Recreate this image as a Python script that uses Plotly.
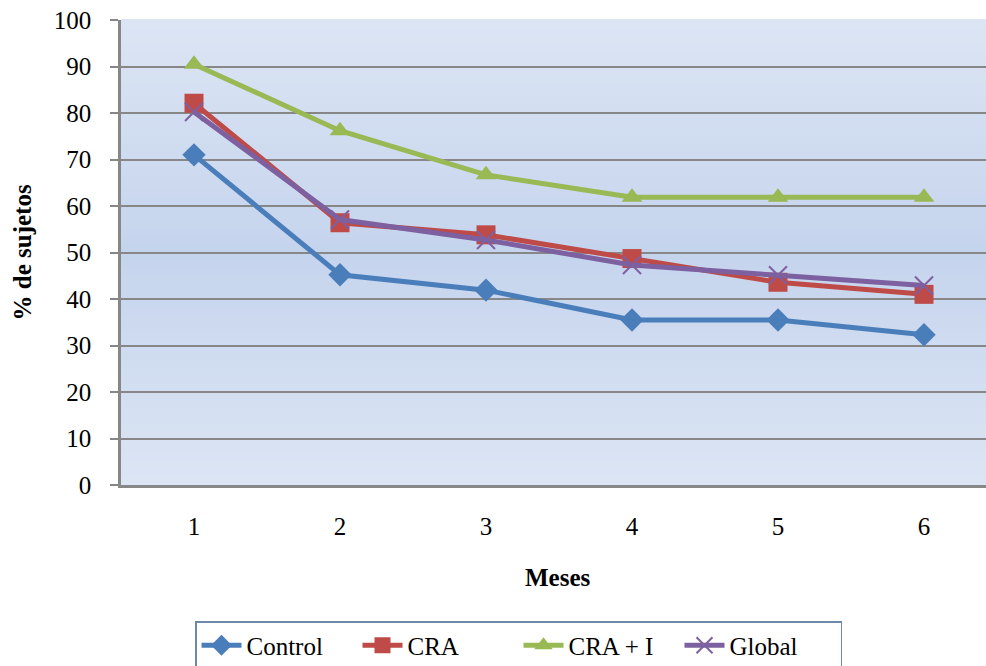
import plotly.graph_objects as go

# Data: percentage of subjects per month and group
meses = [1, 2, 3, 4, 5, 6]
control = [71.0, 45.2, 41.9, 35.5, 35.5, 32.3]
cra = [82.1, 56.4, 53.8, 48.7, 43.6, 41.0]
cra_i = [90.5, 76.2, 66.7, 61.9, 61.9, 61.9]
global_ = [80.2, 57.1, 52.7, 47.3, 45.1, 42.9]
y_ticks = [0, 10, 20, 30, 40, 50, 60, 70, 80, 90, 100]

series = [
    ("Control", control, "#4A7EBB", "diamond", 18, 0),
    ("CRA", cra, "#BE4B48", "square", 19, 0),
    ("CRA + I", cra_i, "#98B954", "triangle-up", 18, 0),
    ("Global", global_, "#7D60A0", "x-thin-open", 18, 2),
]

FONT = "Liberation Serif"

fig = go.Figure()
for name, vals, color, symbol, size, mlw in series:
    fig.add_trace(go.Scatter(
        x=meses, y=vals, name=name, mode="lines+markers",
        line=dict(color=color, width=5),
        marker=dict(symbol=symbol, size=size, color=color,
                    line=dict(color=color, width=mlw)),
    ))

# Vertical gradient for the plotting area (light at edges, deeper in the middle)
top = (220, 229, 244)
mid = (197, 212, 237)
n_bands = 60
for i in range(n_bands):
    t = (i + 0.5) / n_bands
    w = 1 - abs(t - 0.5) * 2
    c = tuple(int(round(top[k] + (mid[k] - top[k]) * w)) for k in range(3))
    fig.add_shape(type="rect", xref="paper", yref="paper",
                  x0=0, x1=1, y0=i / n_bands, y1=(i + 1) / n_bands + 0.002,
                  fillcolor="rgb(%d,%d,%d)" % c, line=dict(width=0), layer="below")

fig.update_layout(
    width=986, height=666,
    margin=dict(l=121, r=0, t=20, b=181),
    paper_bgcolor="white",
    plot_bgcolor="rgba(0,0,0,0)",
    font=dict(family=FONT, size=25, color="black"),
    showlegend=True,
    legend=dict(
        orientation="h", xref="container", yref="container",
        x=195 / 986, y=1 - 621 / 666, xanchor="left", yanchor="top",
        bordercolor="#6d88a8", borderwidth=1.5, bgcolor="white",
        font=dict(family=FONT, size=25, color="black"),
        entrywidth=106, entrywidthmode="pixels",
        itemwidth=40, tracegroupgap=0,
    ),
    annotations=[
        dict(text="<b>% de sujetos</b>", textangle=-90, xref="paper", yref="paper",
             x=-(121 - 22) / 865, y=0.5, showarrow=False,
             font=dict(family=FONT, size=25, color="black"),
             xanchor="center", yanchor="middle"),
        dict(text="<b>Meses</b>", xref="paper", yref="paper",
             x=(558 - 121) / 865, y=-(577 - 485) / 465, showarrow=False,
             font=dict(family=FONT, size=25, color="black"),
             xanchor="center", yanchor="middle"),
    ],
)

fig.update_xaxes(
    range=[0.5, 6.5 - 11 / 146], tickvals=meses, ticktext=[str(m) for m in meses],
    showgrid=False, zeroline=False, showline=True, linecolor="#878787", linewidth=2.5,
    ticks="outside", ticklen=17, tickcolor="rgba(0,0,0,0)",
    tickfont=dict(family=FONT, size=25, color="black"),
)
fig.update_yaxes(
    range=[0, 100], tickvals=y_ticks,
    showgrid=True, gridcolor="#878787", gridwidth=2,
    zeroline=False, showline=True, linecolor="#878787", linewidth=2.5,
    ticks="outside", ticklen=8, tickcolor="#878787", tickwidth=2,
    ticklabelstandoff=14,
    tickfont=dict(family=FONT, size=25, color="black"),
)

fig.write_html("out.html")
